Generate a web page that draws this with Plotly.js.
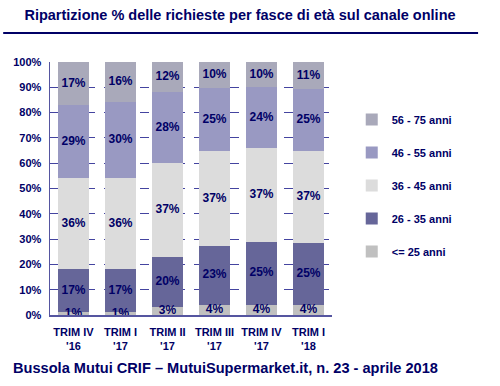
<!DOCTYPE html>
<html>
<head>
<meta charset="utf-8">
<script src="https://cdn.plot.ly/plotly-3.0.1.min.js"></script>
<style>html,body{margin:0;padding:0;background:#fff;}#chart{width:500px;height:386px;}</style>
</head>
<body>
<div id="chart"></div>
<script>
var categories = ["TRIM IV<br>'16", "TRIM I<br>'17", "TRIM II<br>'17", "TRIM III<br>'17", "TRIM IV<br>'17", "TRIM I<br>'18"];
var seriesNames = ["<= 25 anni", "26 - 35 anni", "36 - 45 anni", "46 - 55 anni", "56 - 75 anni"];
var age25 = [1, 1, 3, 4, 4, 4];
var age26_35 = [17, 17, 20, 23, 25, 25];
var age36_45 = [36, 36, 37, 37, 37, 37];
var age46_55 = [29, 30, 28, 25, 24, 25];
var age56_75 = [17, 16, 12, 10, 10, 11];
var yTicks = [0, 10, 20, 30, 40, 50, 60, 70, 80, 90, 100];

var seriesValues = [age25, age26_35, age36_45, age46_55, age56_75];
var colors = ["#c0c0c0", "#666699", "#dcdcdc", "#9999c2", "#a9a9ba"];
var navy = "#000066";
var fontFam = "Arial, 'Liberation Sans', sans-serif";

var traces = seriesValues.map(function (vals, i) {
  return {
    type: "bar",
    name: seriesNames[i],
    x: categories,
    y: vals,
    hoverinfo: "skip",
    marker: { color: colors[i], line: { width: 0 } },
    legendgroup: "g" + i,
    legendrank: seriesValues.length - i
  };
});

// label positions: segment centres, normalised the same way as barnorm "percent"
var totals = categories.map(function (c, j) {
  return seriesValues.reduce(function (s, arr) { return s + arr[j]; }, 0);
});
seriesValues.forEach(function (vals, i) {
  var ys = categories.map(function (c, j) {
    var base = 0;
    for (var k = 0; k < i; k++) base += seriesValues[k][j];
    return (base + vals[j] / 2) / totals[j] * 100;
  });
  traces.push({
    type: "scatter",
    mode: "text",
    x: categories,
    y: ys,
    text: vals.map(function (v) { return v + "%"; }),
    textposition: "middle center",
    textfont: { family: fontFam, size: 12, color: navy, weight: "bold" },
    cliponaxis: false,
    showlegend: false,
    hoverinfo: "skip"
  });
});

var layout = {
  width: 500,
  height: 386,
  margin: { l: 50, r: 168, t: 62, b: 71 },
  paper_bgcolor: "#ffffff",
  plot_bgcolor: "#ffffff",
  barmode: "stack",
  barnorm: "percent",
  bargap: 0.36,
  font: { family: fontFam, color: navy, size: 11, weight: "bold" },
  showlegend: true,
  legend: {
    x: 1.07, xanchor: "left",
    y: 0.83, yanchor: "top",
    traceorder: "grouped",
    tracegroupgap: 14,
    font: { family: fontFam, size: 11, color: navy, weight: "bold" },
    bgcolor: "rgba(0,0,0,0)",
    itemwidth: 30
  },
  xaxis: {
    showline: true, linecolor: "#5555a0", linewidth: 1.5,
    tickfont: { family: fontFam, size: 11, color: navy, weight: "bold" },
    ticks: "", ticklabelstandoff: 6, fixedrange: true
  },
  yaxis: {
    range: [0, 100.001],
    tickvals: yTicks,
    ticktext: yTicks.map(function (t) { return t + "%"; }),
    showline: true, linecolor: "#5555a0", linewidth: 1.5,
    showgrid: true, gridcolor: "#4444a0", griddash: "dash", gridwidth: 1,
    zeroline: false,
    ticks: "", ticklen: 0, ticklabelstandoff: 5,
    tickfont: { family: fontFam, size: 11, color: navy, weight: "bold" },
    fixedrange: true
  },
  title: {
    text: "Ripartizione % delle richieste per fasce di età sul canale online",
    font: { family: fontFam, size: 14.5, color: navy, weight: "bold" },
    x: 0.48, xanchor: "center",
    y: 0.962, yanchor: "middle"
  },
  shapes: [{
    type: "line", xref: "paper", yref: "paper",
    x0: -0.166, x1: 1.518, y0: 1.115, y1: 1.115,
    line: { color: navy, width: 2 }
  }],
  annotations: [{
    text: "Bussola Mutui CRIF \u2013 MutuiSupermarket.it, n. 23 - aprile 2018",
    xref: "paper", yref: "paper",
    x: -0.137, xanchor: "left",
    y: -0.21, yanchor: "middle",
    showarrow: false,
    font: { family: fontFam, size: 14.6, color: navy, weight: "bold" }
  }]
};

Plotly.newPlot("chart", traces, layout, { displayModeBar: false, staticPlot: true });
</script>
</body>
</html>
